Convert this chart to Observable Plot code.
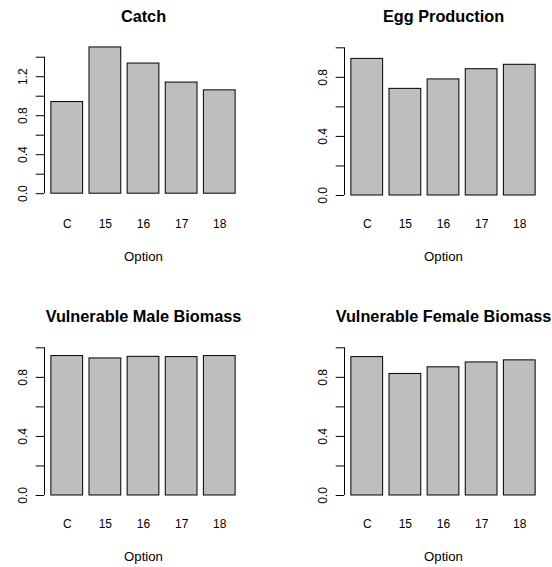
<!DOCTYPE html>
<html><head><meta charset="utf-8">
<script src="https://cdn.jsdelivr.net/npm/d3@7"></script>
<script src="https://cdn.jsdelivr.net/npm/@observablehq/plot@0.6"></script>
<style>
html,body{margin:0;padding:0;background:#fff;overflow:hidden;}
#wrap{position:relative;width:552px;height:567px;overflow:hidden;background:#fff;}
#wrap svg{position:absolute;}
</style></head><body><div id="wrap"></div>
<script>
// Categories
const options = ["C", "15", "16", "17", "18"];
// Series values (relative to status quo)
const catchVals = [0.94, 1.50, 1.335, 1.14, 1.06];
const eggVals = [0.925, 0.722, 0.786, 0.855, 0.885];
const maleVals = [0.944, 0.928, 0.939, 0.937, 0.944];
const femaleVals = [0.937, 0.823, 0.868, 0.901, 0.915];
// Titles and axis text
const titles = ["Catch", "Egg Production", "Vulnerable Male Biomass", "Vulnerable Female Biomass"];
const xTitle = "Option";
// Tick values
const catchTicks = [0, 0.2, 0.4, 0.6, 0.8, 1.0, 1.2, 1.4];
const catchTickLabels = [0, 0.4, 0.8, 1.2];
const unitTicks = [0, 0.2, 0.4, 0.6, 0.8, 1.0];
const unitTickLabels = [0, 0.4, 0.8];

const W = 300, H = 300;
const mL = 44, mR = 58, mT = 41.4, mB = 99.1;
const font = "'Liberation Sans', Arial, Helvetica, sans-serif";

const panels = [
  {title: titles[0], values: catchVals, domain: [-0.079, 1.557], ticks: catchTicks, labels: catchTickLabels, col: 0, row: 0},
  {title: titles[1], values: eggVals, domain: [-0.04, 1.04], ticks: unitTicks, labels: unitTickLabels, col: 1, row: 0},
  {title: titles[2], values: maleVals, domain: [-0.04, 1.04], ticks: unitTicks, labels: unitTickLabels, col: 0, row: 1},
  {title: titles[3], values: femaleVals, domain: [-0.04, 1.04], ticks: unitTicks, labels: unitTickLabels, col: 1, row: 1}
];

const wrap = document.getElementById("wrap");
for (const p of panels) {
  const data = options.map((o, i) => ({option: o, value: p.values[i]}));
  const svg = Plot.plot({
    width: W, height: H,
    marginLeft: mL, marginRight: mR, marginTop: mT, marginBottom: mB,
    style: {fontFamily: font, fontSize: "12px", color: "black", background: "white"},
    x: {domain: options, paddingInner: 0.167, paddingOuter: 0.18, round: false, axis: null},
    y: {domain: p.domain, axis: null},
    marks: [
      Plot.barY(data, {x: "option", y: "value", fill: "#bebebe", stroke: "black", strokeWidth: 1, inset: 0}),
      Plot.axisX({tickSize: 0, tickPadding: 18, label: null, fontSize: 12}),
      Plot.axisY({ticks: p.ticks, tickSize: 8.3, tickFormat: () => "", label: null}),
      Plot.ruleX([p.ticks], {x: null, y1: d => d3.min(d), y2: d => d3.max(d), dx: -(W - mL - mR) / 2, stroke: "black"}),
      Plot.text(p.labels, {y: d => d, text: d => d.toFixed(1), frameAnchor: "left", rotate: -90, dx: -17.5, textAnchor: "middle", lineAnchor: "bottom", fontSize: 12}),
      Plot.text([p.title], {text: d => d, frameAnchor: "top", dy: -20.4, lineAnchor: "bottom", fontSize: 16.3, fontWeight: "bold"}),
      Plot.text([xTitle], {text: d => d, frameAnchor: "bottom", dy: 60, lineAnchor: "bottom", fontSize: 13.2})
    ]
  });
  svg.style.left = (p.col * W) + "px";
  svg.style.top = (p.row * H) + "px";
  wrap.appendChild(svg);
}
</script>
</body></html>
